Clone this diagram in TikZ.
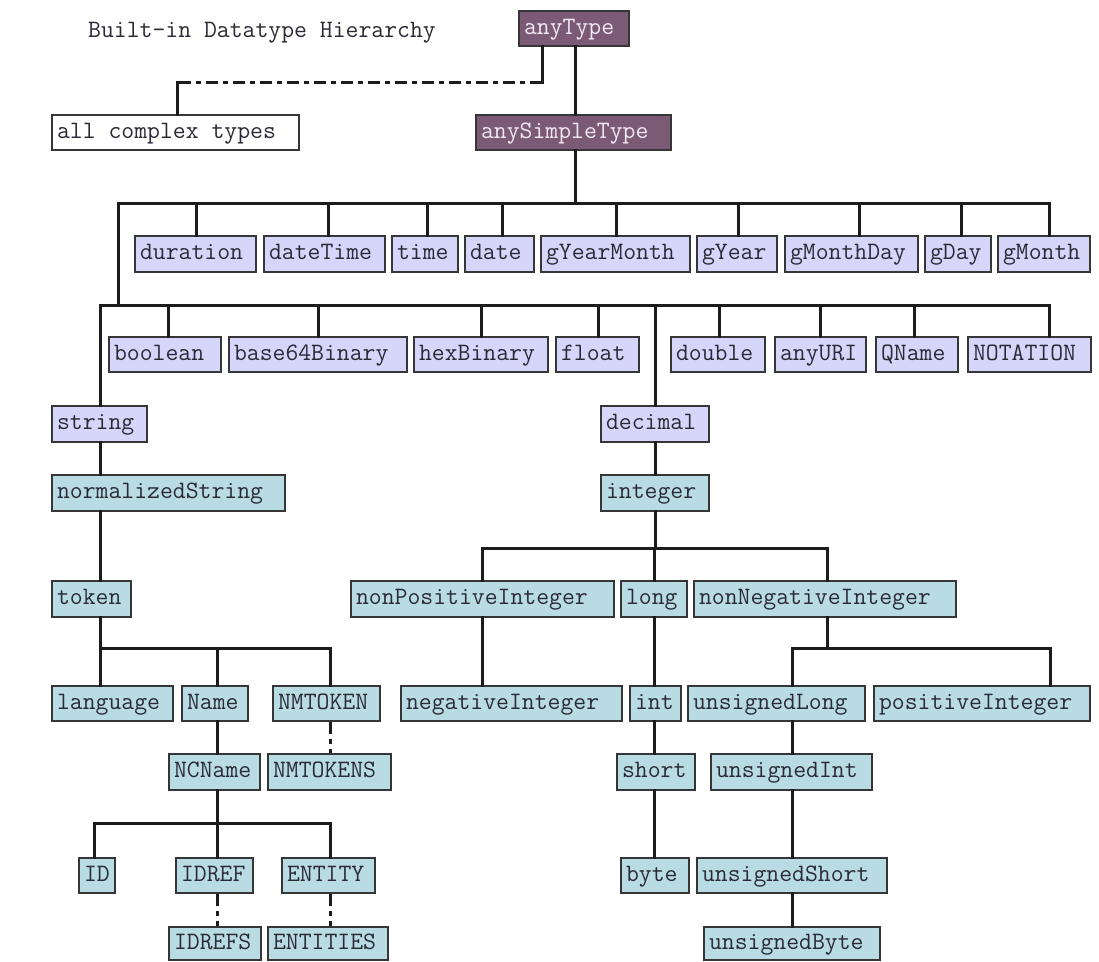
\documentclass[tikz,border=0pt]{standalone}
\usepackage{fontspec}
\definecolor{purp}{HTML}{7B5A75}
\definecolor{purptext}{HTML}{F4E8F4}
\definecolor{lav}{HTML}{D6D6FA}
\definecolor{lblue}{HTML}{B9DCE4}
\definecolor{edgec}{HTML}{363636}
\definecolor{ink}{HTML}{2A2A36}
\definecolor{wirec}{HTML}{1C1C1C}
\newcommand\boxfont{\ttfamily\fontsize{25}{28}\selectfont}
\tikzset{
  tbox/.style={draw=edgec, line width=1.9pt, inner xsep=5pt, inner ysep=0pt,
    font=\boxfont, text=ink, text height=16pt, text depth=5pt},
  prim/.style={tbox, fill=lav},
  derv/.style={tbox, fill=lblue},
  topt/.style={tbox, fill=purp, text=purptext},
  cplx/.style={tbox, fill=white},
  wire/.style={draw=wirec, line width=3pt, line cap=rect},
  dwire/.style={draw=wirec, line width=3pt, line cap=butt, dash pattern=on 12pt off 5pt on 5pt off 5pt},
}
\newcommand\bx[7]{%
  \pgfmathsetmacro\bxw{#4-#3}%
  \pgfmathsetmacro\bxh{#6-#5}%
  \pgfmathsetmacro\bxt{#4-#3-10}%
  \pgfmathsetmacro\bxcx{(#3+#4)/2}%
  \pgfmathsetmacro\bxcy{-(#5+#6)/2}%
  \node[#2, minimum width=\bxw pt, minimum height=\bxh pt] (#1) at (\bxcx,\bxcy) {\makebox[\bxt pt][l]{#7}};}
\newcommand\hbus[3]{\draw[wire] (#1 -| #2,0) -- (#1 -| #3,0);}
\newcommand\down[3]{\draw[wire] (#2 -| #3,0) -- (#1.north -| #3,0);}
\newcommand\up[3]{\draw[wire] (#1.south -| #3,0) -- (#2 -| #3,0);}
\newcommand\vlink[4][wire]{\draw[#1] (#2.south -| #4,0) -- (#3.north -| #4,0);}
\begin{document}
\begin{tikzpicture}[x=1pt,y=1pt]
\fill[white] (0,0) rectangle (1099,-961);
\useasboundingbox (0,0) rectangle (1099,-961);

\node[anchor=base west, inner sep=0pt, font=\boxfont, text=ink] (title) at (88,-37) {Built-in Datatype Hierarchy};

% bus coordinates
\coordinate (bus1) at (0,-203);
\coordinate (bus2) at (0,-305);
\coordinate (bus3) at (0,-648);
\coordinate (bus4) at (0,-548);
\coordinate (bus5) at (0,-648);
\coordinate (bus6) at (0,-823);
\coordinate (cA) at (542,-82);
\coordinate (cB) at (177,-82);

% top
\bx{anytype}{topt}{519}{629}{11}{46}{anyType}
\bx{allct}{cplx}{52}{299}{115}{150}{all complex types}
\bx{ast}{topt}{476}{671}{115}{150}{anySimpleType}

% row 1
\bx{duration}{prim}{135}{256}{236}{272}{duration}
\bx{dateTime}{prim}{264}{385}{236}{272}{dateTime}
\bx{time}{prim}{392}{458}{236}{272}{time}
\bx{date}{prim}{465}{534}{236}{272}{date}
\bx{gYearMonth}{prim}{541}{690}{236}{272}{gYearMonth}
\bx{gYear}{prim}{697}{777}{236}{272}{gYear}
\bx{gMonthDay}{prim}{785}{918}{236}{272}{gMonthDay}
\bx{gDay}{prim}{925}{991}{236}{272}{gDay}
\bx{gMonth}{prim}{998}{1090}{236}{272}{gMonth}

% row 2
\bx{boolean}{prim}{109}{221}{337}{372}{boolean}
\bx{base64Binary}{prim}{229}{407}{337}{372}{base64Binary}
\bx{hexBinary}{prim}{414}{548}{337}{372}{hexBinary}
\bx{float}{prim}{556}{639}{337}{372}{float}
\bx{double}{prim}{671}{765}{337}{372}{double}
\bx{anyURI}{prim}{775}{866}{337}{372}{anyURI}
\bx{QName}{prim}{876}{958}{337}{372}{QName}
\bx{NOTATION}{prim}{968}{1091}{337}{372}{NOTATION}

\bx{string}{prim}{52}{147}{406}{442}{string}
\bx{decimal}{prim}{601}{709}{406}{442}{decimal}
\bx{normalizedString}{derv}{52}{285}{475}{511}{normalizedString}
\bx{integer}{derv}{601}{709}{475}{511}{integer}

\bx{token}{derv}{52}{131}{581}{617}{token}
\bx{nonPositiveInteger}{derv}{351}{614}{581}{617}{nonPositiveInteger}
\bx{long}{derv}{621}{687}{581}{617}{long}
\bx{nonNegativeInteger}{derv}{694}{956}{581}{617}{nonNegativeInteger}

\bx{language}{derv}{52}{173}{686}{721}{language}
\bx{Name}{derv}{182}{248}{686}{721}{Name}
\bx{NMTOKEN}{derv}{273}{380}{686}{721}{NMTOKEN}
\bx{negativeInteger}{derv}{401}{622}{686}{721}{negativeInteger}
\bx{int}{derv}{630}{681}{686}{721}{int}
\bx{unsignedLong}{derv}{688}{865}{686}{721}{unsignedLong}
\bx{positiveInteger}{derv}{874}{1090}{686}{721}{positiveInteger}

\bx{NCName}{derv}{169}{260}{754}{790}{NCName}
\bx{NMTOKENS}{derv}{268}{391}{754}{790}{NMTOKENS}
\bx{short}{derv}{617}{695}{754}{790}{short}
\bx{unsignedInt}{derv}{711}{872}{754}{790}{unsignedInt}

\bx{ID}{derv}{79}{115}{858}{893}{ID}
\bx{IDREF}{derv}{176}{253}{858}{893}{IDREF}
\bx{ENTITY}{derv}{282}{375}{858}{893}{ENTITY}
\bx{byte}{derv}{621}{689}{858}{893}{byte}
\bx{unsignedShort}{derv}{697}{887}{858}{893}{unsignedShort}

\bx{IDREFS}{derv}{169}{261}{927}{960}{IDREFS}
\bx{ENTITIES}{derv}{268}{388}{927}{960}{ENTITIES}
\bx{unsignedByte}{derv}{704}{880}{927}{960}{unsignedByte}

% connectors: top
\draw[wire] (anytype.south -| cA) -- (cA);
\draw[dwire] (cA) -- (cB);
\draw[wire] (cB) -- (allct.north -| cB);
\draw[wire] (anytype.south -| 575,0) -- (ast.north -| 575,0);
\up{ast}{bus1}{575}
\hbus{bus1}{118}{1049}
\down{duration}{bus1}{196}
\down{dateTime}{bus1}{328}
\down{time}{bus1}{427}
\down{date}{bus1}{502}
\down{gYearMonth}{bus1}{616}
\down{gYear}{bus1}{738}
\down{gMonthDay}{bus1}{859}
\down{gDay}{bus1}{961}
\down{gMonth}{bus1}{1049}
\draw[wire] (bus1 -| 118,0) -- (bus2 -| 118,0);
\hbus{bus2}{100}{1049}
\down{string}{bus2}{100}
\down{boolean}{bus2}{168}
\down{base64Binary}{bus2}{318}
\down{hexBinary}{bus2}{481}
\down{float}{bus2}{598}
\down{decimal}{bus2}{655}
\down{double}{bus2}{719}
\down{anyURI}{bus2}{820}
\down{QName}{bus2}{914}
\down{NOTATION}{bus2}{1049}

% string branch
\vlink{string}{normalizedString}{100}
\vlink{normalizedString}{token}{100}
\up{token}{bus3}{100}
\hbus{bus3}{100}{330}
\down{language}{bus3}{100}
\down{Name}{bus3}{217}
\down{NMTOKEN}{bus3}{330}
\vlink{Name}{NCName}{217}
\vlink[dwire]{NMTOKEN}{NMTOKENS}{330}
\up{NCName}{bus6}{217}
\hbus{bus6}{94}{330}
\down{ID}{bus6}{94}
\down{IDREF}{bus6}{217}
\down{ENTITY}{bus6}{330}
\vlink[dwire]{IDREF}{IDREFS}{217}
\vlink[dwire]{ENTITY}{ENTITIES}{330}

% decimal branch
\vlink{decimal}{integer}{655}
\up{integer}{bus4}{655}
\hbus{bus4}{482}{827}
\down{nonPositiveInteger}{bus4}{482}
\down{long}{bus4}{654}
\down{nonNegativeInteger}{bus4}{827}
\vlink{nonPositiveInteger}{negativeInteger}{482}
\vlink{long}{int}{654}
\vlink{int}{short}{654}
\vlink{short}{byte}{654}
\up{nonNegativeInteger}{bus5}{827}
\hbus{bus5}{792}{1050}
\down{unsignedLong}{bus5}{792}
\down{positiveInteger}{bus5}{1050}
\vlink{unsignedLong}{unsignedInt}{792}
\vlink{unsignedInt}{unsignedShort}{792}
\vlink{unsignedShort}{unsignedByte}{792}
\end{tikzpicture}
\end{document}
